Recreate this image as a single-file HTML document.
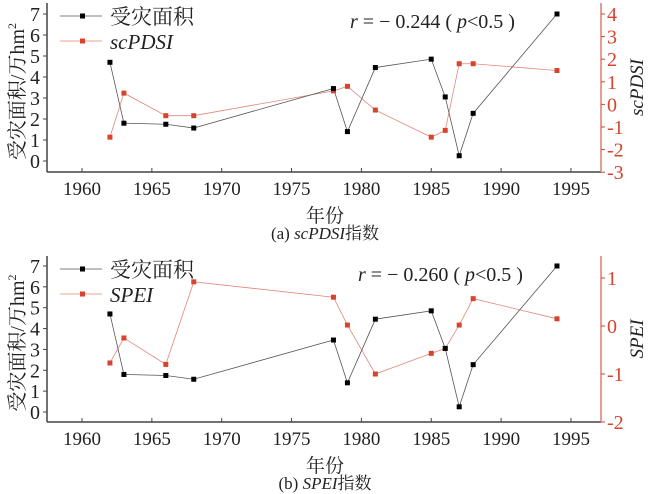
<!DOCTYPE html>
<html><head><meta charset="utf-8"><style>
html,body{margin:0;padding:0;background:#fff;width:650px;height:494px;overflow:hidden}
svg{display:block;font-family:"Liberation Serif","Times New Roman","DejaVu Serif","Noto Serif CJK SC",serif}
svg text{font-family:"Liberation Serif","Times New Roman","DejaVu Serif","Noto Serif CJK SC",serif}
</style></head><body>
<svg id="s" width="650" height="494" xmlns="http://www.w3.org/2000/svg"></svg>
<script>
const S=document.getElementById('s');let h='';
const F='';
const X=y=>82+(y-1960)*13.97;
const yrs=[1962,1963,1966,1968,1978,1979,1981,1985,1986,1987,1988,1994];
const dmg=[4.7,1.8,1.75,1.57,3.45,1.4,4.45,4.85,3.05,0.25,2.27,7.0];
const red='#d9432e';
function panel(o){
 const L=47,R=601,B=o.bottom,T=o.top;
 const yl=v=>o.l0-v*o.lk, yr=v=>o.r0-v*o.rk;
 h+=`<line x1="${L}" y1="${T}" x2="${L}" y2="${B}" stroke="#444" stroke-width="1.5"/>`;
 h+=`<line x1="${L}" y1="${B}" x2="${R}" y2="${B}" stroke="#444" stroke-width="1.5"/>`;
 h+=`<line x1="${R}" y1="${T}" x2="${R}" y2="${B}" stroke="#d98070" stroke-width="1.5"/>`;
 for(let v=0;v<=7;v++){const y=yl(v);h+=`<line x1="${L-4}" y1="${y}" x2="${L}" y2="${y}" stroke="#444"/><text x="${L-7}" y="${y+7}" font-size="20" text-anchor="end" fill="#222">${v}</text>`;}
 for(let yr0=1960;yr0<=1995;yr0+=5){const x=X(yr0);h+=`<line x1="${x}" y1="${B}" x2="${x}" y2="${B-4}" stroke="#444"/><text x="${x}" y="${B+23}" font-size="19" text-anchor="middle" fill="#222">${yr0}</text>`;}
 o.rt.forEach(v=>{const y=yr(v);h+=`<line x1="${R}" y1="${y}" x2="${R+4}" y2="${y}" stroke="${red}"/><text x="${R+6}" y="${y+7}" font-size="20" fill="${red}">${v}</text>`;});
 h+=`<text transform="translate(24,${(T+B)/2+4}) rotate(-90)" font-size="20" text-anchor="middle" fill="#222">受灾面积/万hm<tspan dy="-8" font-size="12">2</tspan></text>`;
 h+=`<text transform="translate(643,${(T+B)/2}) rotate(-90)" font-size="19" text-anchor="middle" font-style="italic" fill="#222">${o.name}</text>`;
 const pd=yrs.map((y,i)=>X(y)+','+yl(dmg[i])).join(' ');
 const pi=yrs.map((y,i)=>X(y)+','+yr(o.idx[i])).join(' ');
 h+=`<polyline points="${pi}" fill="none" stroke="#e08878" stroke-width="0.8"/>`;
 h+=`<polyline points="${pd}" fill="none" stroke="#555" stroke-width="0.8"/>`;
 yrs.forEach((y,i)=>{h+=`<rect x="${X(y)-2.5}" y="${yr(o.idx[i])-2.5}" width="5" height="5" fill="${red}"/>`;});
 yrs.forEach((y,i)=>{h+=`<rect x="${X(y)-2.5}" y="${yl(dmg[i])-2.5}" width="5" height="5" fill="#000"/>`;});
 const ly1=o.top+13, ly2=o.top+38;
 h+=`<line x1="60" y1="${ly1}" x2="102" y2="${ly1}" stroke="#555" stroke-width="0.8"/><rect x="80" y="${ly1-2.5}" width="5" height="5" fill="#000"/><text x="110" y="${ly1+8}" font-size="21" fill="#222">受灾面积</text>`;
 h+=`<line x1="60" y1="${ly2}" x2="102" y2="${ly2}" stroke="#e08878" stroke-width="0.8"/><rect x="80" y="${ly2-2.5}" width="5" height="5" fill="${red}"/><text x="110" y="${ly2+8}" font-size="21" font-style="italic" fill="#222">${o.name}</text>`;
 h+=`<text x="${o.rx}" y="${o.top+25}" font-size="20" fill="#222"><tspan font-style="italic">r</tspan> = − ${o.r} ( <tspan font-style="italic">p</tspan>&lt;0.5 )</text>`;
 h+=`<text x="325" y="${B+50}" font-size="19" text-anchor="middle" fill="#222">年份</text>`;
 h+=`<text x="325" y="${B+67}" font-size="17" text-anchor="middle" fill="#222">(${o.lab}) <tspan font-style="italic">${o.name}</tspan>指数</text>`;
}
panel({top:3,bottom:172,l0:161,lk:21,r0:104.4,rk:22.6,rt:[4,3,2,1,0,-1,-2,-3],name:'scPDSI',
 idx:[-1.45,0.5,-0.5,-0.5,0.6,0.8,-0.25,-1.45,-1.15,1.8,1.8,1.5],r:'0.244',rx:350,lab:'a'});
panel({top:256,bottom:422,l0:412,lk:20.86,r0:326,rk:48,rt:[1,0,-1,-2],name:'SPEI',
 idx:[-0.77,-0.25,-0.8,0.92,0.6,0.02,-1.0,-0.57,-0.47,0.02,0.57,0.15],r:'0.260',rx:358,lab:'b'});
S.innerHTML=h;
</script>
</body></html>
